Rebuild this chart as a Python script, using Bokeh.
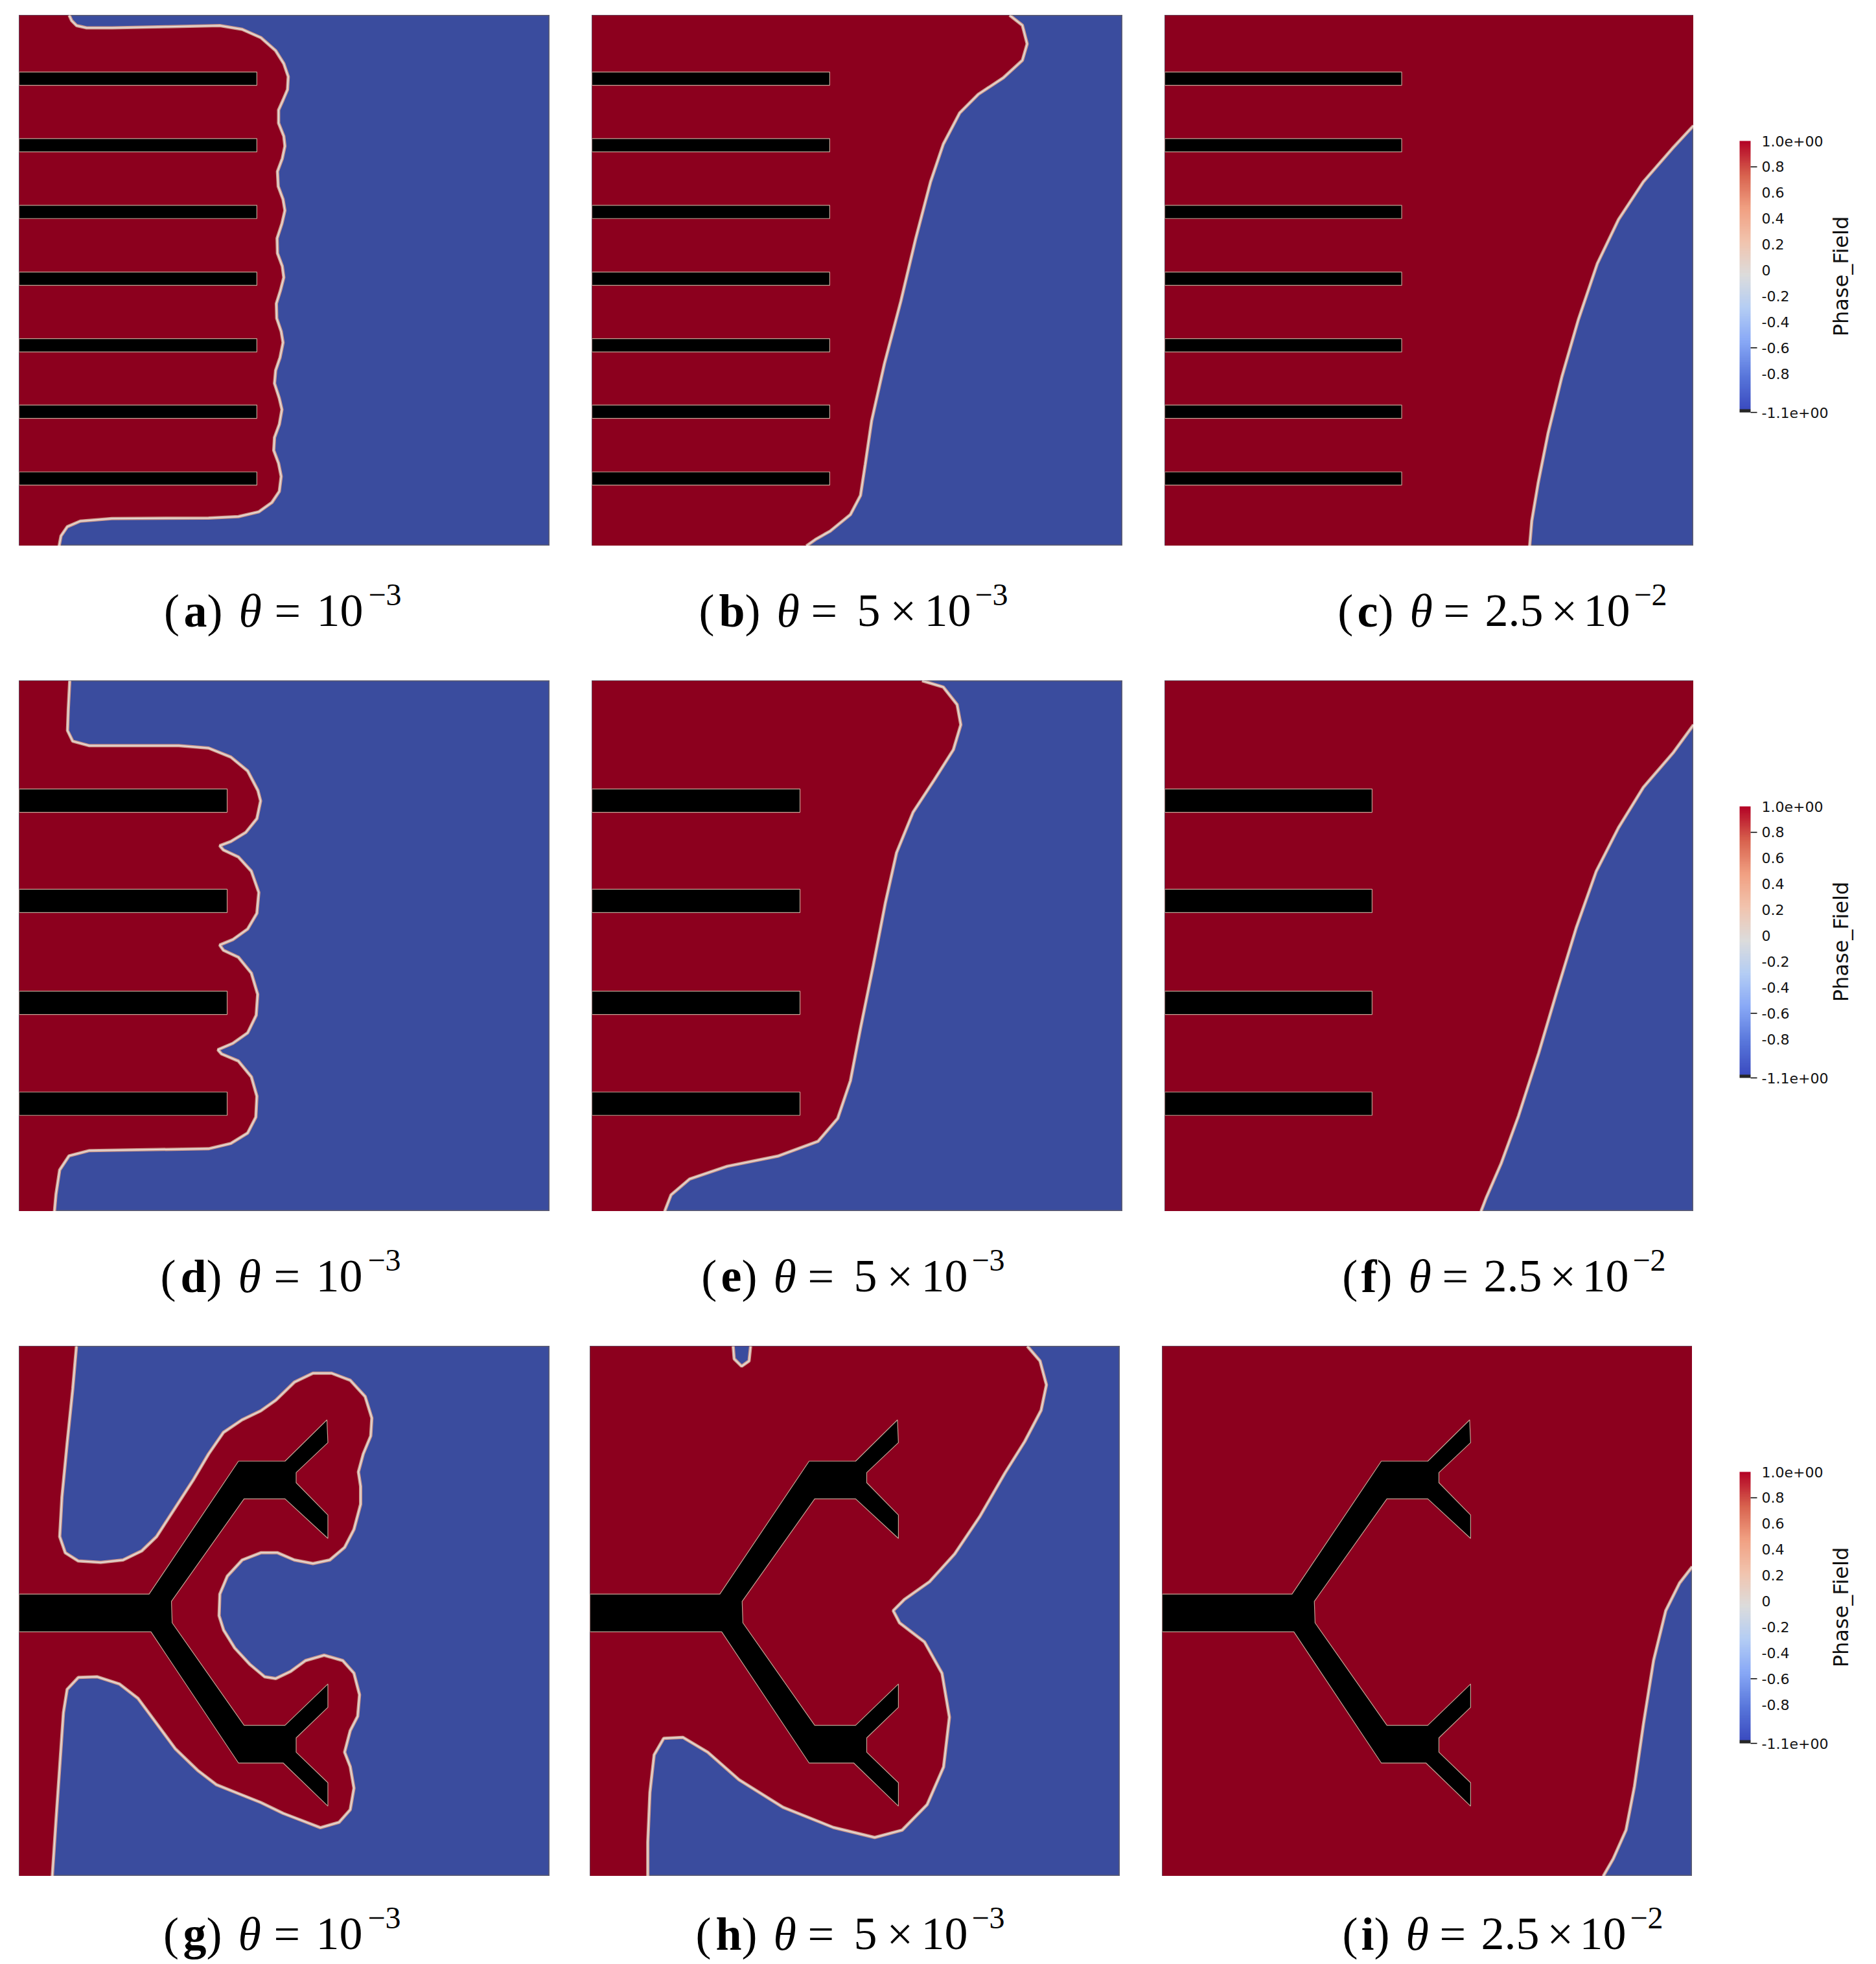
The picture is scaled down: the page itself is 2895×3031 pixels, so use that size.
import numpy as np
from bokeh.plotting import figure
from bokeh.layouts import row, column
from bokeh.models import Range1d, Spacer, LinearColorMapper
from bokeh.core.properties import value
from bokeh.embed import file_html
from bokeh.resources import INLINE

# ---------------- colours ----------------
RED = "#8c001e"
BLUE = "#3a4c9e"
EDGE = "#5c5c70"
IF_OUTER = "#cf9c8f"
IF_INNER = "#e4d8d2"
OBST_EDGE = "#c2a294"

# ---------------- data (domain coords 0..1, y up) ----------------
# row 1: seven fingers
BARS1_Y = [0.8805, 0.755, 0.6294, 0.5035, 0.378, 0.253, 0.127]
BARS1_THICK = 0.025
BARS1_LEN = 0.448
# row 2: four fingers
BARS2_Y = [0.774, 0.585, 0.393, 0.203]
BARS2_THICK = 0.044
BARS2_LEN = 0.392
# row 3: branching tree obstacle
TREE_X = [0.0, 0.2449, 0.4133, 0.501, 0.580, 0.5818, 0.522, 0.522, 0.5818, 0.5818, 0.501, 0.4239,
          0.287, 0.2884, 0.4239, 0.501, 0.5818, 0.5818, 0.522, 0.522, 0.5818, 0.5818, 0.4975, 0.4133,
          0.2484, 0.0]
TREE_Y = [0.5322, 0.5322, 0.783, 0.783, 0.861, 0.818, 0.7614, 0.7424, 0.6814, 0.6373, 0.7119, 0.7119,
          0.5186, 0.478, 0.2847, 0.2847, 0.3627, 0.3186, 0.261, 0.234, 0.1763, 0.1322, 0.2136, 0.2136,
          0.461, 0.461]

# interfaces (red / blue boundary)
A_X = [0.0943, 0.0992, 0.1083, 0.1272, 0.1749, 0.2800, 0.3781, 0.4202, 0.4553, 0.4833, 0.4987, 0.5071,
       0.5057, 0.4973, 0.4889, 0.4889, 0.4987, 0.5008, 0.4959, 0.4868, 0.4882, 0.4973, 0.5008, 0.4952,
       0.4861, 0.4868, 0.4959, 0.4987, 0.4924, 0.4847, 0.4854, 0.4938, 0.4973, 0.4917, 0.4833, 0.4812,
       0.4903, 0.4952, 0.4903, 0.4812, 0.4798, 0.4889, 0.4938, 0.4903, 0.4763, 0.4518, 0.4132, 0.3571,
       0.1749, 0.1153, 0.0908, 0.0789, 0.0754]
A_Y = [1.0, 0.9895, 0.9804, 0.9762, 0.9762, 0.9783, 0.9804, 0.9734, 0.9579, 0.9334, 0.9089, 0.8843,
       0.8598, 0.8402, 0.8213, 0.7967, 0.7722, 0.7533, 0.7301, 0.7056, 0.6776, 0.6530, 0.6320, 0.6075,
       0.5795, 0.5514, 0.5269, 0.5059, 0.4813, 0.4568, 0.4288, 0.4042, 0.3832, 0.3552, 0.3306, 0.3061,
       0.2780, 0.2570, 0.2290, 0.2045, 0.1799, 0.1554, 0.1309, 0.1028, 0.0818, 0.0643, 0.0552, 0.0524,
       0.0517, 0.0468, 0.0362, 0.0187, 0.0]

B_X = [0.787, 0.811, 0.820, 0.811, 0.775, 0.728, 0.693, 0.662, 0.638, 0.610, 0.582, 0.551, 0.527,
       0.515, 0.506, 0.487, 0.449, 0.421, 0.404]
B_Y = [1.0, 0.981, 0.946, 0.915, 0.882, 0.851, 0.816, 0.757, 0.686, 0.579, 0.461, 0.343, 0.236,
       0.154, 0.095, 0.059, 0.028, 0.012, 0.0]

C_X = [1.0, 0.960, 0.905, 0.858, 0.818, 0.782, 0.751, 0.725, 0.706, 0.694, 0.690]
C_Y = [0.792, 0.749, 0.686, 0.615, 0.532, 0.426, 0.319, 0.213, 0.118, 0.047, 0.0]

D_X = [0.0954, 0.0926, 0.0912, 0.101, 0.1325, 0.3008, 0.357, 0.399, 0.4306, 0.450, 0.455, 0.448,
       0.427, 0.399, 0.378, 0.385, 0.413, 0.4376, 0.4516, 0.448, 0.4306, 0.4025, 0.378, 0.385, 0.413,
       0.4376, 0.4495, 0.4467, 0.4306, 0.4025, 0.3745, 0.3815, 0.413, 0.4376, 0.448, 0.446, 0.4306,
       0.399, 0.357, 0.1325, 0.094, 0.0764, 0.0694, 0.0666]
D_Y = [1.0, 0.9457, 0.906, 0.886, 0.8775, 0.8775, 0.873, 0.856, 0.830, 0.793, 0.7735, 0.740,
       0.714, 0.697, 0.689, 0.681, 0.668, 0.641, 0.601, 0.5616, 0.532, 0.512, 0.502, 0.492, 0.479,
       0.449, 0.409, 0.3695, 0.3364, 0.3166, 0.3046, 0.2967, 0.2834, 0.2536, 0.217, 0.1775, 0.1477,
       0.128, 0.118, 0.1146, 0.1046, 0.078, 0.0318, 0.0]

E_X = [0.622, 0.662, 0.688, 0.695, 0.681, 0.645, 0.605, 0.574, 0.553, 0.530, 0.506, 0.487, 0.463,
       0.426, 0.350, 0.255, 0.184, 0.149, 0.137]
E_Y = [1.0, 0.988, 0.955, 0.917, 0.870, 0.813, 0.752, 0.676, 0.582, 0.463, 0.345, 0.246, 0.175,
       0.132, 0.104, 0.085, 0.061, 0.031, 0.0]

F_X = [1.0, 0.962, 0.905, 0.858, 0.816, 0.778, 0.742, 0.707, 0.669, 0.636, 0.608, 0.598]
F_Y = [0.917, 0.865, 0.799, 0.723, 0.641, 0.534, 0.416, 0.298, 0.180, 0.090, 0.026, 0.0]

G_X = [0.108, 0.101, 0.0905, 0.0807, 0.0765, 0.087, 0.1116, 0.1537, 0.1958, 0.2309, 0.259, 0.294,
       0.329, 0.357, 0.385, 0.420, 0.4554, 0.4835, 0.5186, 0.5537, 0.5888, 0.6239, 0.652, 0.6646,
       0.6625, 0.6484, 0.6393, 0.6435, 0.6435, 0.6309, 0.6133, 0.5853, 0.5537, 0.5186, 0.487, 0.4554,
       0.4204, 0.3923, 0.3782, 0.3768, 0.3853, 0.4063, 0.4344, 0.4625, 0.4835, 0.5116, 0.5396, 0.5747,
       0.6098, 0.6309, 0.6414, 0.6379, 0.6239, 0.6133, 0.6239, 0.6309, 0.6239, 0.6028, 0.5677, 0.5326,
       0.4975, 0.4554, 0.4133, 0.3712, 0.3361, 0.294, 0.259, 0.2239, 0.1888, 0.1467, 0.1116, 0.0905,
       0.0835, 0.0765, 0.0695, 0.0625]
G_Y = [1.0, 0.9186, 0.817, 0.7153, 0.6407, 0.6102, 0.5946, 0.5919, 0.5966, 0.6136, 0.6407, 0.6949,
       0.749, 0.7966, 0.8373, 0.861, 0.878, 0.898, 0.932, 0.949, 0.949, 0.9356, 0.905, 0.8644,
       0.8305, 0.7966, 0.7627, 0.7356, 0.7017, 0.6542, 0.6203, 0.5966, 0.5898, 0.5966, 0.6102, 0.6102,
       0.5966, 0.5661, 0.5322, 0.4915, 0.4644, 0.4305, 0.4, 0.3763, 0.3729, 0.3864, 0.4068, 0.4169,
       0.4068, 0.383, 0.3424, 0.3017, 0.2746, 0.2339, 0.2068, 0.1661, 0.1254, 0.1017, 0.0915, 0.1051,
       0.1186, 0.139, 0.1559, 0.1729, 0.2, 0.2407, 0.2881, 0.3356, 0.3627, 0.3763, 0.3749, 0.3525,
       0.3085, 0.2068, 0.1051, 0.0]

H_X = [0.825, 0.849, 0.861, 0.851, 0.820, 0.783, 0.735, 0.688, 0.641, 0.593, 0.572, 0.584, 0.631,
       0.664, 0.678, 0.667, 0.636, 0.589, 0.537, 0.459, 0.364, 0.281, 0.222, 0.175, 0.139, 0.121,
       0.113, 0.109, 0.109]
H_Y = [1.0, 0.972, 0.927, 0.879, 0.820, 0.761, 0.678, 0.608, 0.556, 0.522, 0.501, 0.478, 0.442,
       0.383, 0.300, 0.206, 0.135, 0.087, 0.073, 0.092, 0.130, 0.182, 0.234, 0.262, 0.260, 0.229,
       0.158, 0.064, 0.0]
H_TONGUE_X = [0.270, 0.272, 0.286, 0.300, 0.303]
H_TONGUE_Y = [1.0, 0.976, 0.962, 0.972, 1.0]

I_X = [1.0, 0.976, 0.950, 0.927, 0.908, 0.891, 0.875, 0.851, 0.832]
I_Y = [0.584, 0.553, 0.501, 0.407, 0.288, 0.170, 0.087, 0.033, 0.0]

# colour bar
CB_LOW, CB_HIGH, CB_MAP_LOW = -1.1, 1.0, -1.075
CB_TICKS = [1.0, 0.8, 0.6, 0.4, 0.2, 0.0, -0.2, -0.4, -0.6, -0.8, -1.1]
CB_LABELS = ["1.0e+00", "0.8", "0.6", "0.4", "0.2", "0", "-0.2", "-0.4", "-0.6", "-0.8", "-1.1e+00"]
CB_TICKMARKS = [0.8, -0.6, -1.1]
CB_TITLE = "Phase_Field"
CB_NODES = ["#3b4cc0", "#5a78dc", "#88a8f6", "#b4cdf4", "#dcdcdc", "#f1c4ae", "#f1a082", "#d8624e", "#b40426"]

# captions
CAP_LETTERS = ["a", "b", "c", "d", "e", "f", "g", "h", "i"]
CAP_KIND = ["A", "B", "C", "A", "B", "C", "A", "B", "C"]
CAP_EXP = ["\u22123", "\u22123", "\u22122", "\u22123", "\u22123", "\u22122", "\u22123", "\u22123", "\u22122"]
CAP_THETA_X = [368, 1198, 2175, 367, 1193, 2173, 367, 1193, 2169]

# ---------------- helpers ----------------
FONT_CAP = value("Liberation Serif")
FONT_CB = value("DejaVu Sans")
CAP_SIZE = 72
SUP_SIZE = 48
BOLD_W = {"a": 0.5, "b": 0.556, "c": 0.444, "d": 0.556, "e": 0.444, "f": 0.333,
          "g": 0.5, "h": 0.556, "i": 0.278}
KIND_PIECES = {
    "A": [("=", 55), ("10", 120)],
    "B": [("=", 53), ("5", 124), ("\u00d7", 175), ("10", 228)],
    "C": [("=", 52), ("2.5", 116), ("\u00d7", 218), ("10", 268)],
}
KIND_SUP = {"A": 200, "B": 306, "C": 346}


def hex2rgb(h):
    return [int(h[i:i + 2], 16) for i in (1, 3, 5)]


def build_palette(nodes, n=256):
    rgb = [hex2rgb(c) for c in nodes]
    out = []
    for k in range(n):
        t = k / (n - 1) * (len(rgb) - 1)
        i = min(int(t), len(rgb) - 2)
        f = t - i
        c = [round(rgb[i][j] * (1 - f) + rgb[i + 1][j] * f) for j in range(3)]
        out.append("#%02x%02x%02x" % tuple(c))
    return out


PALETTE = build_palette(CB_NODES)


def base_fig(w, h, xr, yr):
    p = figure(width=w, height=h, x_range=xr, y_range=yr,
               toolbar_location=None, output_backend="svg",
               x_axis_type=None, y_axis_type=None, min_border=0)
    return p


def make_panel(w, h, red_x, red_y, ifaces, blue_patches=(), bars=None, tree=None):
    p = base_fig(w, h, Range1d(0, 1), Range1d(0, 1))
    p.background_fill_color = BLUE
    p.border_fill_color = "white"
    p.outline_line_color = EDGE
    p.outline_line_width = 2
    p.patch(red_x, red_y, fill_color=RED, line_color=None)
    for bx, by in blue_patches:
        p.patch(bx, by, fill_color=BLUE, line_color=None)
    for ix, iy in ifaces:
        p.line(ix, iy, line_color=IF_OUTER, line_width=5)
        p.line(ix, iy, line_color=IF_INNER, line_width=2)
    if bars is not None:
        ys, th, ln = bars
        ys = np.array(ys)
        p.quad(left=0, right=ln, bottom=ys - th / 2, top=ys + th / 2,
               fill_color="black", line_color=OBST_EDGE, line_width=1.2)
    if tree is not None:
        p.patch(tree[0], tree[1], fill_color="black", line_color=OBST_EDGE, line_width=1.2)
    return p


def left_red(x, y):
    return [0.0] + x + [0.0], [1.0] + y + [0.0]


def corner_red(x, y):
    return [0.0, 1.0] + x + [0.0], [1.0, 1.0] + y + [0.0]


CB_SCALE = 419 / (CB_HIGH - CB_LOW)   # px per unit
CB_TOP_OFFSET = 194                    # px from row top to value 1.0


def make_cbar(left, w, h):
    top_val = CB_HIGH + CB_TOP_OFFSET / CB_SCALE
    bot_val = CB_LOW - (h - CB_TOP_OFFSET - 419) / CB_SCALE
    p = base_fig(w, h, Range1d(left, left + w), Range1d(bot_val, top_val))
    p.outline_line_color = None
    p.background_fill_color = "white"
    mapper = LinearColorMapper(palette=PALETTE, low=CB_MAP_LOW, high=CB_HIGH, low_color="#262626")
    grad = np.linspace(CB_LOW, CB_HIGH, 420).reshape(-1, 1)
    p.image(image=[grad], x=2684, y=CB_LOW, dw=17, dh=CB_HIGH - CB_LOW, color_mapper=mapper)
    p.segment(x0=2701, x1=2711, y0=CB_TICKMARKS, y1=CB_TICKMARKS, line_color="black", line_width=1.5)
    p.text(x=2718, y=CB_TICKS, text=CB_LABELS, text_font=FONT_CB, text_font_size="22px",
           text_align="left", text_baseline="middle", text_color="#111111")
    p.text(x=[2840], y=[-0.0475], text=[CB_TITLE], angle=np.pi / 2, text_font=FONT_CB,
           text_font_size="32px", text_align="center", text_baseline="middle", text_color="#111111")
    return p


def make_caption(left, width, top, h, baseline, i):
    """one caption figure; x/y ranges are page pixels (y downward)."""
    p = base_fig(width, h, Range1d(left, left + width), Range1d(top + h, top))
    p.outline_line_color = None
    common = dict(text_font=FONT_CAP, text_font_size="%dpx" % CAP_SIZE, text_baseline="alphabetic",
                  text_color="black")
    tx = CAP_THETA_X[i]
    letter = CAP_LETTERS[i]
    close_r = tx - 25
    letter_r = close_r - 24
    open_r = letter_r - BOLD_W[letter] * CAP_SIZE * 1.1 - 3
    p.text(x=[close_r], y=[baseline], text=[")"], text_align="right", **common)
    p.text(x=[letter_r], y=[baseline], text=[letter], text_align="right",
           text_font_style="bold", **common)
    p.text(x=[open_r], y=[baseline], text=["("], text_align="right", **common)
    p.text(x=[tx], y=[baseline], text=["\u03b8"], text_align="left",
           text_font_style="italic", **common)
    pieces = KIND_PIECES[CAP_KIND[i]]
    p.text(x=[tx + d for _, d in pieces], y=[baseline] * len(pieces), text=[t for t, _ in pieces],
           text_align="left", **common)
    p.text(x=[tx + KIND_SUP[CAP_KIND[i]]], y=[baseline - 25], text=[CAP_EXP[i]],
           text_font=FONT_CAP, text_font_size="%dpx" % SUP_SIZE, text_align="left",
           text_baseline="alphabetic", text_color="black")
    return p


def caption_row(top, h, baseline, idxs):
    cols = [(0, 880), (880, 900), (1780, 1111)]
    figs = [make_caption(l, w, top, h, baseline, i) for (l, w), i in zip(cols, idxs)]
    return row(*figs)


# ---------------- panels ----------------
pa = make_panel(819, 819, *left_red(A_X, A_Y), [(A_X, A_Y)], bars=(BARS1_Y, BARS1_THICK, BARS1_LEN))
pb = make_panel(819, 819, *left_red(B_X, B_Y), [(B_X, B_Y)], bars=(BARS1_Y, BARS1_THICK, BARS1_LEN))
pc = make_panel(816, 819, *corner_red(C_X, C_Y), [(C_X, C_Y)], bars=(BARS1_Y, BARS1_THICK, BARS1_LEN))

pd = make_panel(819, 819, *left_red(D_X, D_Y), [(D_X, D_Y)], bars=(BARS2_Y, BARS2_THICK, BARS2_LEN))
pe = make_panel(819, 819, *left_red(E_X, E_Y), [(E_X, E_Y)], bars=(BARS2_Y, BARS2_THICK, BARS2_LEN))
pf = make_panel(816, 819, *corner_red(F_X, F_Y), [(F_X, F_Y)], bars=(BARS2_Y, BARS2_THICK, BARS2_LEN))

pg = make_panel(819, 818, *left_red(G_X, G_Y), [(G_X, G_Y)], tree=(TREE_X, TREE_Y))
ph = make_panel(818, 818, *left_red(H_X, H_Y), [(H_X, H_Y), (H_TONGUE_X, H_TONGUE_Y)],
                blue_patches=[(H_TONGUE_X, H_TONGUE_Y)], tree=(TREE_X, TREE_Y))
pi_ = make_panel(818, 818, *corner_red(I_X, I_Y), [(I_X, I_Y)], tree=(TREE_X, TREE_Y))

# bokeh's page template has no body margin: page coords == picture coords
cb1 = make_cbar(2613, 278, 819)
cb2 = make_cbar(2613, 278, 819)
cb3 = make_cbar(2611, 280, 818)

cap1 = caption_row(842, 208, 942, [0, 1, 2])
cap2 = caption_row(1869, 208, 1969, [3, 4, 5])
cap3 = caption_row(2895, 134, 2984, [6, 7, 8])

r1 = row(Spacer(width=29, height=819), pa, Spacer(width=65, height=819), pb,
         Spacer(width=65, height=819), pc, cb1)
r2 = row(Spacer(width=29, height=819), pd, Spacer(width=65, height=819), pe,
         Spacer(width=65, height=819), pf, cb2)
r3 = row(Spacer(width=29, height=818), pg, Spacer(width=62, height=818), ph,
         Spacer(width=65, height=818), pi_, cb3)

layout = column(Spacer(width=2891, height=23), r1, cap1, r2, cap2, r3, cap3)

with open("out.html", "w") as f:
    f.write(file_html(layout, INLINE))
